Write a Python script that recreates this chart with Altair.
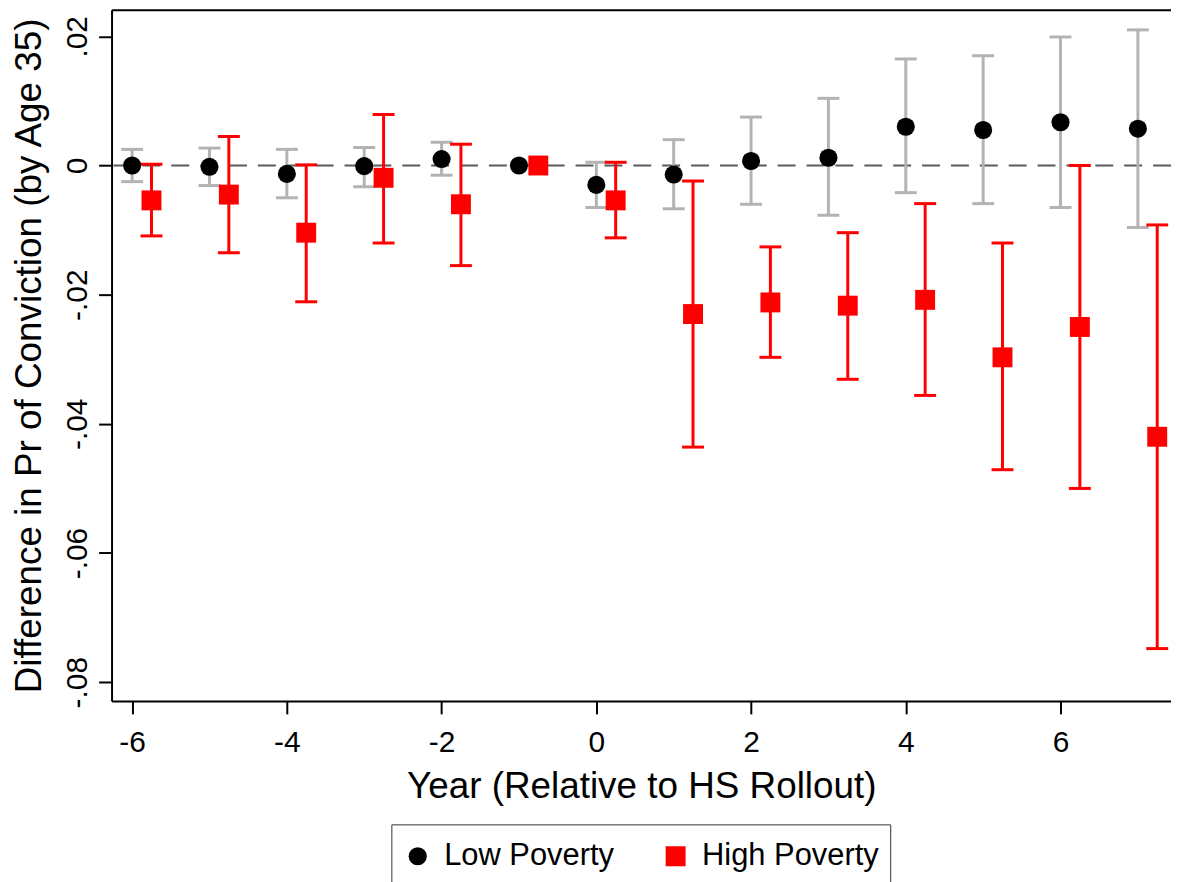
import altair as alt
import pandas as pd

years = [-6, -5, -4, -3, -2, -1, 0, 1, 2, 3, 4, 5, 6, 7]

low_est = [0.0000, -0.0002, -0.0013, -0.0001, 0.0010, 0.0000, -0.0030, -0.0014, 0.0007, 0.0012, 0.0060, 0.0055, 0.0067, 0.0057]
low_lo = [-0.0025, -0.0031, -0.0050, -0.0033, -0.0015, None, -0.0065, -0.0067, -0.0060, -0.0077, -0.0042, -0.0059, -0.0065, -0.0096]
low_hi = [0.0025, 0.0027, 0.0025, 0.0028, 0.0036, None, 0.0005, 0.0040, 0.0075, 0.0104, 0.0165, 0.0170, 0.0199, 0.0210]

high_est = [-0.0054, -0.0045, -0.0104, -0.0019, -0.0060, 0.0000, -0.0054, -0.0230, -0.0212, -0.0217, -0.0208, -0.0297, -0.0250, -0.0420]
high_lo = [-0.0109, -0.0135, -0.0211, -0.0120, -0.0155, None, -0.0112, -0.0436, -0.0297, -0.0331, -0.0356, -0.0471, -0.0500, -0.0748]
high_hi = [0.0002, 0.0045, 0.0001, 0.0079, 0.0033, None, 0.0005, -0.0024, -0.0126, -0.0104, -0.0059, -0.0120, 0.0000, -0.0092]

groups = ["Low Poverty", "High Poverty"]
x_shift = [0.0, 0.25]
y_ticks = [-0.08, -0.06, -0.04, -0.02, 0.0, 0.02]
x_ticks = [-6, -4, -2, 0, 2, 4, 6]

low = pd.DataFrame({"year": years, "est": low_est, "lo": low_lo, "hi": low_hi, "group": groups[0]})
low["xpos"] = low["year"] + x_shift[0]
high = pd.DataFrame({"year": years, "est": high_est, "lo": high_lo, "hi": high_hi, "group": groups[1]})
high["xpos"] = high["year"] + x_shift[1]
df = pd.concat([low, high], ignore_index=True)

FONT = "Liberation Sans"
xscale = alt.Scale(domain=[-6.266, 7.428], nice=False, zero=False)
yscale = alt.Scale(domain=[-0.0829, 0.0241], nice=False, zero=False)

GRAY = "#b3b3b3"
RED = "#ff0000"

zero_line = alt.Chart(pd.DataFrame({"zero": [0.0]})).mark_rule(
    color="#5a5a5a", strokeWidth=2, strokeDash=[18, 11]
).encode(y=alt.Y("zero:Q", scale=yscale, axis=None))


def bars(group, color, top_axis=False):
    src = alt.Chart(df).transform_filter(alt.datum.group == group)
    if top_axis:
        xenc = alt.X("xpos:Q", scale=xscale,
                     axis=alt.Axis(orient="top", labels=False, ticks=False, title=None,
                                   domainColor="black", domainWidth=2, grid=False))
    else:
        xenc = alt.X("xpos:Q", scale=xscale, axis=None)
    rule = src.mark_rule(color=color, strokeWidth=3).encode(
        x=xenc,
        y=alt.Y("lo:Q", scale=yscale, axis=None),
        y2="hi:Q",
    )
    caps = src.transform_fold(["lo", "hi"], as_=["which", "val"]).mark_tick(
        color=color, orient="horizontal", size=22, thickness=3, opacity=1
    ).encode(
        x=alt.X("xpos:Q", scale=xscale, axis=None),
        y=alt.Y("val:Q", scale=yscale, axis=None),
    )
    return rule, caps


low_rule, low_caps = bars(groups[0], GRAY, top_axis=True)
high_rule, high_caps = bars(groups[1], RED)

legend = alt.Legend(
    title=None, orient="none", legendX=281, legendY=818, direction="horizontal",
    strokeColor="#333333", padding=11, labelFontSize=31, labelFont=FONT,
    labelColor="black", symbolSize=380, symbolStrokeWidth=0, labelOffset=11,
    columnPadding=46, labelLimit=400, fillColor="white", clipHeight=42,
)

points = alt.Chart(df).mark_point(filled=True, opacity=1, strokeWidth=0).encode(
    x=alt.X("xpos:Q", scale=xscale,
            axis=alt.Axis(orient="bottom", values=x_ticks, title="Year (Relative to HS Rollout)",
                          labelExpr="(datum.value < 0 ? '-' : '') + abs(datum.value)",
                          tickSize=13, tickWidth=2, tickColor="black",
                          domainColor="black", domainWidth=2, grid=False,
                          labelFontSize=30, labelPadding=14, titleFontSize=37,
                          titlePadding=11, labelFont=FONT, titleFont=FONT,
                          titleFontWeight="normal", labelColor="black", titleColor="black")),
    y=alt.Y("est:Q", scale=yscale,
            axis=alt.Axis(orient="left", values=y_ticks,
                          title="Difference in Pr of Conviction (by Age 35)",
                          labelExpr="datum.value == 0 ? '0' : (datum.value < 0 ? '-' : '') + replace(format(abs(datum.value), '.2f'), '0.', '.')",
                          labelAngle=270, labelAlign="center", labelBaseline="alphabetic",
                          tickSize=13, tickWidth=2, tickColor="black",
                          domainColor="black", domainWidth=2, grid=False,
                          labelFontSize=30, labelPadding=12, titleFontSize=37,
                          titlePadding=14, labelFont=FONT, titleFont=FONT,
                          titleFontWeight="normal", labelColor="black", titleColor="black")),
    color=alt.Color("group:N", scale=alt.Scale(domain=groups, range=["black", RED]), legend=legend),
    shape=alt.Shape("group:N", scale=alt.Scale(domain=groups, range=["circle", "square"]), legend=legend),
    size=alt.Size("group:N", scale=alt.Scale(domain=groups, range=[330, 400]), legend=None),
    order=alt.Order("year:Q"),
)

chart = alt.layer(
    zero_line, low_rule, low_caps, high_rule, high_caps, points
).resolve_axis(x="independent", y="independent").properties(
    width=1064, height=694,
    autosize=alt.AutoSizeParams(type="none"),
    padding={"left": 104, "top": 0, "right": 0, "bottom": 180},
    background="white",
).configure_view(stroke=None).configure(font=FONT)

chart.save("out.html", embed_options={"renderer": "svg", "actions": False})
